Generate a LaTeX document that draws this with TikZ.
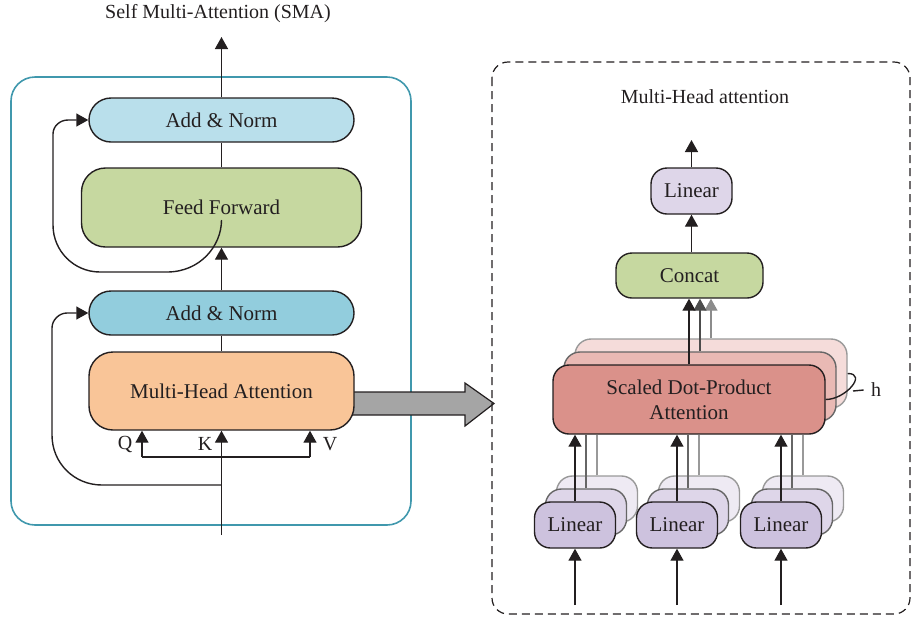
\documentclass[tikz,border=0pt]{standalone}
\usepackage{fontspec}
\setmainfont{Liberation Serif}
\usetikzlibrary{arrows.meta}
\definecolor{FrameClr}{RGB}{64,152,173}
\definecolor{NormTopClr}{RGB}{185,223,235}
\definecolor{NormClr}{RGB}{146,205,221}
\definecolor{FeedClr}{RGB}{198,216,160}
\definecolor{MhaClr}{RGB}{249,197,152}
\definecolor{LinClr}{RGB}{205,194,222}
\definecolor{LinMidClr}{RGB}{222,214,233}
\definecolor{LinBackClr}{RGB}{238,234,243}
\definecolor{SdpaClr}{RGB}{218,145,138}
\definecolor{SdpaMidClr}{RGB}{233,185,180}
\definecolor{SdpaBackClr}{RGB}{245,220,218}
\definecolor{ArrowClr}{RGB}{165,165,165}
\definecolor{LineClr}{RGB}{35,31,32}

\begin{document}
\begin{tikzpicture}[x=0.5pt,y=-0.5pt,line width=0.7pt,color=LineClr,
  arr/.style={-{Triangle[width=6.5pt,length=6pt]}},
  blk/.style={draw,rounded corners=#1,inner sep=0pt,align=center,font=\fontsize{10.5}{12.5}\selectfont},
  blk/.default=8pt,
  lbl/.style={font=\fontsize{10}{12}\selectfont}]
\useasboundingbox (0,0) rectangle (911,618);

% encoder block
\draw[FrameClr,line width=0.8pt,rounded corners=12pt] (11,77) rectangle (411,525);
\draw[fill=ArrowClr,line width=0.6pt] (345,392) -- (465,392) -- (465,383) -- (494,403.5) -- (465,426) -- (465,415) -- (345,415);

\node[blk=11pt,fill=NormTopClr,minimum width=132.5pt,minimum height=22pt] (an2) at (221.5,120) {Add \& Norm};
\node[blk=12pt,fill=FeedClr,minimum width=140pt,minimum height=39.5pt] (ff) at (221.5,207.5) {Feed Forward};
\node[blk=11pt,fill=NormClr,minimum width=132.5pt,minimum height=22pt] (an1) at (221.5,313) {Add \& Norm};
\node[blk=12pt,fill=MhaClr,minimum width=132.5pt,minimum height=39pt] (mha) at (221.5,391) {Multi-Head Attention};

\node[lbl] (smatitle) at (218,14) {Self Multi-Attention (SMA)};
\node[lbl] (lq) at (125,444) {Q};
\node[lbl] (lk) at (205,444) {K};
\node[lbl] (lv) at (330,444) {V};

\coordinate (out) at (221.5,37);
\coordinate (ffin) at (221.5,220);
\coordinate (inp) at (221.5,535);
\coordinate (res1) at (221.5,485);
\coordinate (qin) at (142,457);
\coordinate (vin) at (310,457);

\draw[arr] (an2.north) -- (out);
\draw (ff.north) -- (an2.south);
\draw[arr] (an1.north) -- (ff.south);
\draw (mha.north) -- (an1.south);
\draw[arr] (inp) -- (mha.south);
\draw (qin) -- (vin);
\draw[arr] (qin) -- (qin |- mha.south);
\draw[arr] (vin) -- (vin |- mha.south);

% residual paths
\draw[arr] (ffin) .. controls (221.5,246) and (200,272) .. (167,272) -- (100,272)
  .. controls (74,272) and (53,251) .. (53,225) -- (53,134)
  .. controls (53,126) and (60,120) .. (68,120) -- (an2.west);
\draw[arr] (res1) -- (102,485) .. controls (74,485) and (52,463) .. (52,435) -- (52,328)
  .. controls (52,320) and (59,313) .. (67,313) -- (an1.west);

% multi-head attention
\draw[dashed,dash pattern=on 4pt off 2.5pt,line width=0.6pt,rounded corners=8pt] (492,62) rectangle (910,614);
\node[lbl] (mhtitle) at (705,97) {Multi-Head attention};

\node[blk,fill=LinMidClr,minimum width=40.5pt,minimum height=23pt] (lintop) at (691.5,191) {Linear};
\node[blk,fill=FeedClr,minimum width=73.5pt,minimum height=22.5pt] (concat) at (689.5,275.5) {Concat};
\coordinate (mhout) at (691.5,140);
\draw[arr] (lintop.north) -- (mhout);
\draw[arr] (lintop.south |- concat.north) -- (lintop.south);

\foreach \i/\clr/\brd in {2/SdpaBackClr/black!40,1/SdpaMidClr/black!60}
  \node[blk,fill=\clr,draw=\brd,minimum width=136pt,minimum height=34.5pt] (sdpa\i) at ({689+11*\i},{399.5-13*\i}) {};
\node[blk,fill=SdpaClr,minimum width=136pt,minimum height=34.5pt] (sdpa0) at (689,399.5) {Scaled Dot-Product\\Attention};

\foreach \x/\n in {575/a,677/b,781/c}{
  \foreach \i/\clr/\brd in {2/LinBackClr/black!40,1/LinMidClr/black!60}
    \node[blk,fill=\clr,draw=\brd,minimum width=40.5pt,minimum height=23pt] (lin\n\i) at ({\x+11*\i},{525-13*\i}) {};
  \node[blk,fill=LinClr,minimum width=40.5pt,minimum height=23pt] (lin\n0) at (\x,525) {Linear};
  \coordinate (in\n) at (\x,605);
  \draw[arr] (in\n) -- (lin\n0.south);
  \draw[black!40] (lin\n2.north) -- (lin\n2.north |- sdpa0.south);
  \draw[black!60] (lin\n1.north) -- (lin\n1.north |- sdpa0.south);
  \draw[arr] (lin\n0.north) -- (lin\n0.north |- sdpa0.south);
}

\draw[arr,black!45] (sdpa2.north) -- (sdpa2.north |- concat.south);
\draw[arr,black!70] (sdpa1.north) -- (sdpa1.north |- concat.south);
\draw[arr] (sdpa0.north) -- (sdpa0.north |- concat.south);

% heads
\draw (sdpa0.east) to[out=0,in=0,looseness=1.5] (sdpa2.east);
\coordinate (hc) at (853,391);
\node[lbl] (hlab) at (876,390) {h};
\draw (hc) -- (hlab.west);
\end{tikzpicture}
\end{document}
